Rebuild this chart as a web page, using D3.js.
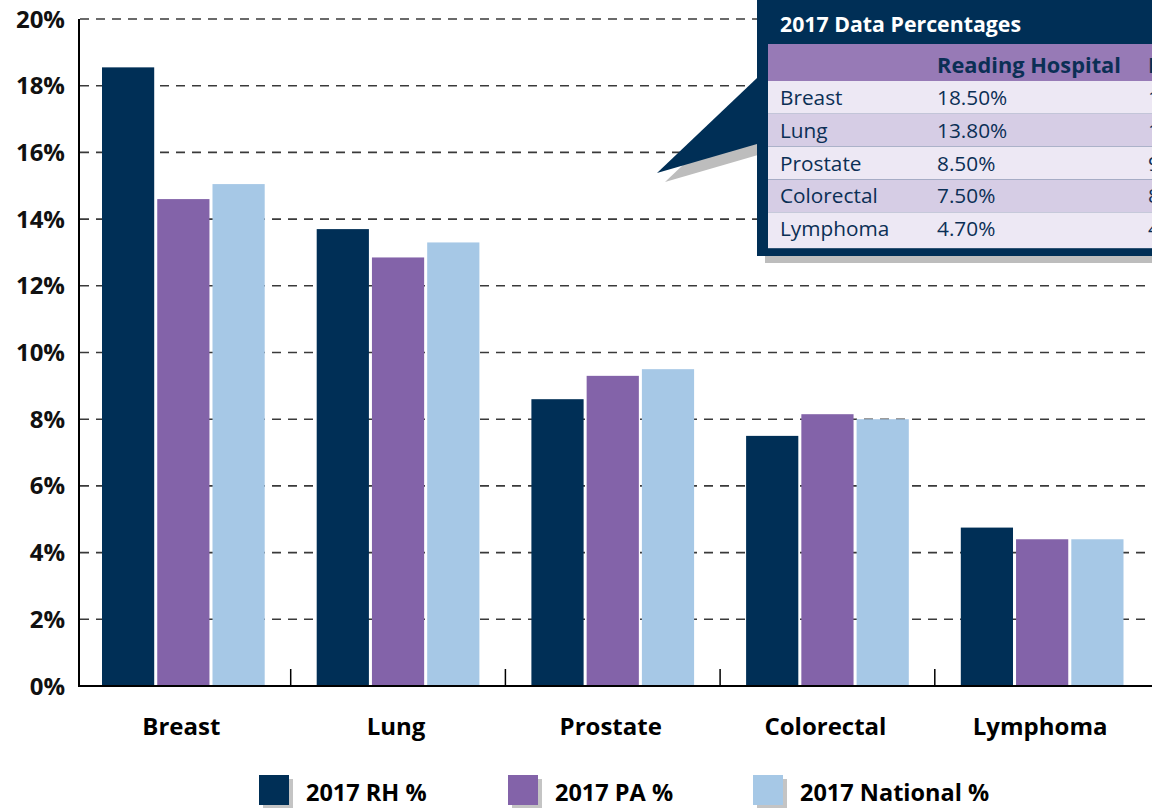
<!DOCTYPE html>
<html>
<head>
<meta charset="utf-8">
<script src="https://cdn.jsdelivr.net/npm/d3@7.9.0/dist/d3.min.js"></script>
<style>
  body { margin: 0; background: #fff; overflow: hidden; }
  text { font-family: "Open Sans", Lato, sans-serif; }
</style>
</head>
<body>
<svg width="1152" height="808"></svg>
<script>
// chart data
const categories = ['Breast', 'Lung', 'Prostate', 'Colorectal', 'Lymphoma'];
const series = ['2017 RH %', '2017 PA %', '2017 National %'];
const rhValues = [18.55, 13.7, 8.6, 7.5, 4.75];
const paValues = [14.6, 12.85, 9.3, 8.15, 4.4];
const nationalValues = [15.05, 13.3, 9.5, 8.0, 4.4];
const yTicks = [0, 2, 4, 6, 8, 10, 12, 14, 16, 18, 20];
const colors = ['#002f56', '#8363a9', '#a6c8e6'];

// callout table
const tableTitle = '2017 Data Percentages';
const tableHeaders = ['Reading Hospital', 'Pennsylvania'];
const tableRH = ['18.50%', '13.80%', '8.50%', '7.50%', '4.70%'];
const tablePA = ['14.60%', '12.90%', '9.30%', '8.20%', '4.40%'];

const values = [rhValues, paValues, nationalValues];
const svg = d3.select('svg');

const y = d3.scaleLinear().domain([0, 20]).range([686, 19]);
const x0 = d3.scaleBand().domain(categories).range([76, 1149.5]);
const x1 = d3.scaleBand().domain(series)
  .range([26, x0.bandwidth() - 26]).paddingInner(0.055);

// dashed grid
svg.append('g')
  .selectAll('line')
  .data(yTicks.filter(d => d > 0))
  .join('line')
  .attr('x1', 80).attr('x2', 1152)
  .attr('y1', d => y(d)).attr('y2', d => y(d))
  .attr('stroke', '#3a3a3a')
  .attr('stroke-width', 1.6)
  .attr('stroke-dasharray', '9,7');

// y labels
svg.append('g')
  .selectAll('text')
  .data(yTicks)
  .join('text')
  .attr('x', 65)
  .attr('y', d => y(d) + 8.5)
  .attr('text-anchor', 'end')
  .attr('font-size', 24)
  .attr('font-weight', 700)
  .attr('fill', '#111')
  .text(d => d + '%');

// bars
const groups = svg.append('g')
  .selectAll('g')
  .data(categories)
  .join('g')
  .attr('transform', d => `translate(${x0(d)},0)`);

groups.selectAll('rect')
  .data((c, i) => series.map((s, j) => ({ s, j, v: values[j][i] })))
  .join('rect')
  .attr('x', d => x1(d.s))
  .attr('width', x1.bandwidth())
  .attr('y', d => y(d.v))
  .attr('height', d => y(0) - y(d.v))
  .attr('fill', d => colors[d.j]);

// axes
svg.append('line')
  .attr('x1', 79).attr('x2', 79).attr('y1', 19).attr('y2', 687)
  .attr('stroke', '#000').attr('stroke-width', 2);
svg.append('line')
  .attr('x1', 78).attr('x2', 1152).attr('y1', 686).attr('y2', 686)
  .attr('stroke', '#000').attr('stroke-width', 2);
svg.append('g')
  .selectAll('line')
  .data(categories.slice(1))
  .join('line')
  .attr('x1', d => x0(d)).attr('x2', d => x0(d))
  .attr('y1', 669).attr('y2', 686)
  .attr('stroke', '#000').attr('stroke-width', 1.5);

// category labels
svg.append('g')
  .selectAll('text')
  .data(categories)
  .join('text')
  .attr('x', d => x0(d) + x0.bandwidth() / 2 - 2)
  .attr('y', 735)
  .attr('text-anchor', 'middle')
  .attr('font-size', 24)
  .attr('font-weight', 700)
  .attr('fill', '#000')
  .text(d => d);

// legend
const legendX = [259, 508, 753];
const legend = svg.append('g')
  .selectAll('g')
  .data(series)
  .join('g')
  .attr('transform', (d, i) => `translate(${legendX[i]},775)`);
legend.append('rect')
  .attr('x', 4).attr('y', 4).attr('width', 30).attr('height', 30)
  .attr('fill', '#c4c4c4');
legend.append('rect')
  .attr('width', 30).attr('height', 30)
  .attr('fill', (d, i) => colors[i]);
legend.append('text')
  .attr('x', 47).attr('y', 26)
  .attr('font-size', 23.5)
  .attr('font-weight', 700)
  .attr('fill', '#000')
  .text(d => d);

// callout box
const box = svg.append('g');
const tip = [[657, 173], [757, 78], [757, 144]];
box.append('polygon')
  .attr('points', tip.map(p => [p[0] + 8, p[1] + 9]).join(' '))
  .attr('fill', '#bdbdbd');
box.append('rect')
  .attr('x', 765).attr('y', 7).attr('width', 400).attr('height', 256)
  .attr('fill', '#bdbdbd');
box.append('polygon')
  .attr('points', tip.join(' '))
  .attr('fill', '#002f56');
box.append('rect')
  .attr('x', 757).attr('y', -2).attr('width', 400).attr('height', 258)
  .attr('fill', '#002f56');
box.append('text')
  .attr('x', 780).attr('y', 32)
  .attr('font-size', 21.3)
  .attr('font-weight', 700)
  .attr('fill', '#fff')
  .text(tableTitle);

const colX = [780, 937, 1148];
const rowH = 32.8;
box.append('rect')
  .attr('x', 768).attr('y', 44).attr('width', 400).attr('height', 37)
  .attr('fill', '#977ab6');
box.selectAll('.hdr')
  .data(tableHeaders)
  .join('text')
  .attr('class', 'hdr')
  .attr('x', (d, i) => colX[i + 1])
  .attr('y', 73)
  .attr('font-size', 21.8)
  .attr('font-weight', 700)
  .attr('fill', '#0b2f55')
  .text(d => d);

const rows = box.selectAll('.row')
  .data(categories)
  .join('g')
  .attr('class', 'row')
  .attr('transform', (d, i) => `translate(0,${81 + i * rowH})`);
rows.append('rect')
  .attr('x', 768).attr('width', 400).attr('height', (d, i) => i === 4 ? 36 : rowH)
  .attr('fill', (d, i) => i % 2 ? '#d6cde5' : '#ede8f4');
rows.append('text')
  .attr('x', colX[0]).attr('y', 24)
  .attr('font-size', 20.8)
  .attr('fill', '#0b2f55')
  .text(d => d);
rows.append('text')
  .attr('x', colX[1]).attr('y', 24)
  .attr('font-size', 20.8)
  .attr('fill', '#0b2f55')
  .text((d, i) => tableRH[i]);
rows.append('text')
  .attr('x', colX[2]).attr('y', 24)
  .attr('font-size', 20.8)
  .attr('fill', '#0b2f55')
  .text((d, i) => tablePA[i]);
</script>
</body>
</html>
